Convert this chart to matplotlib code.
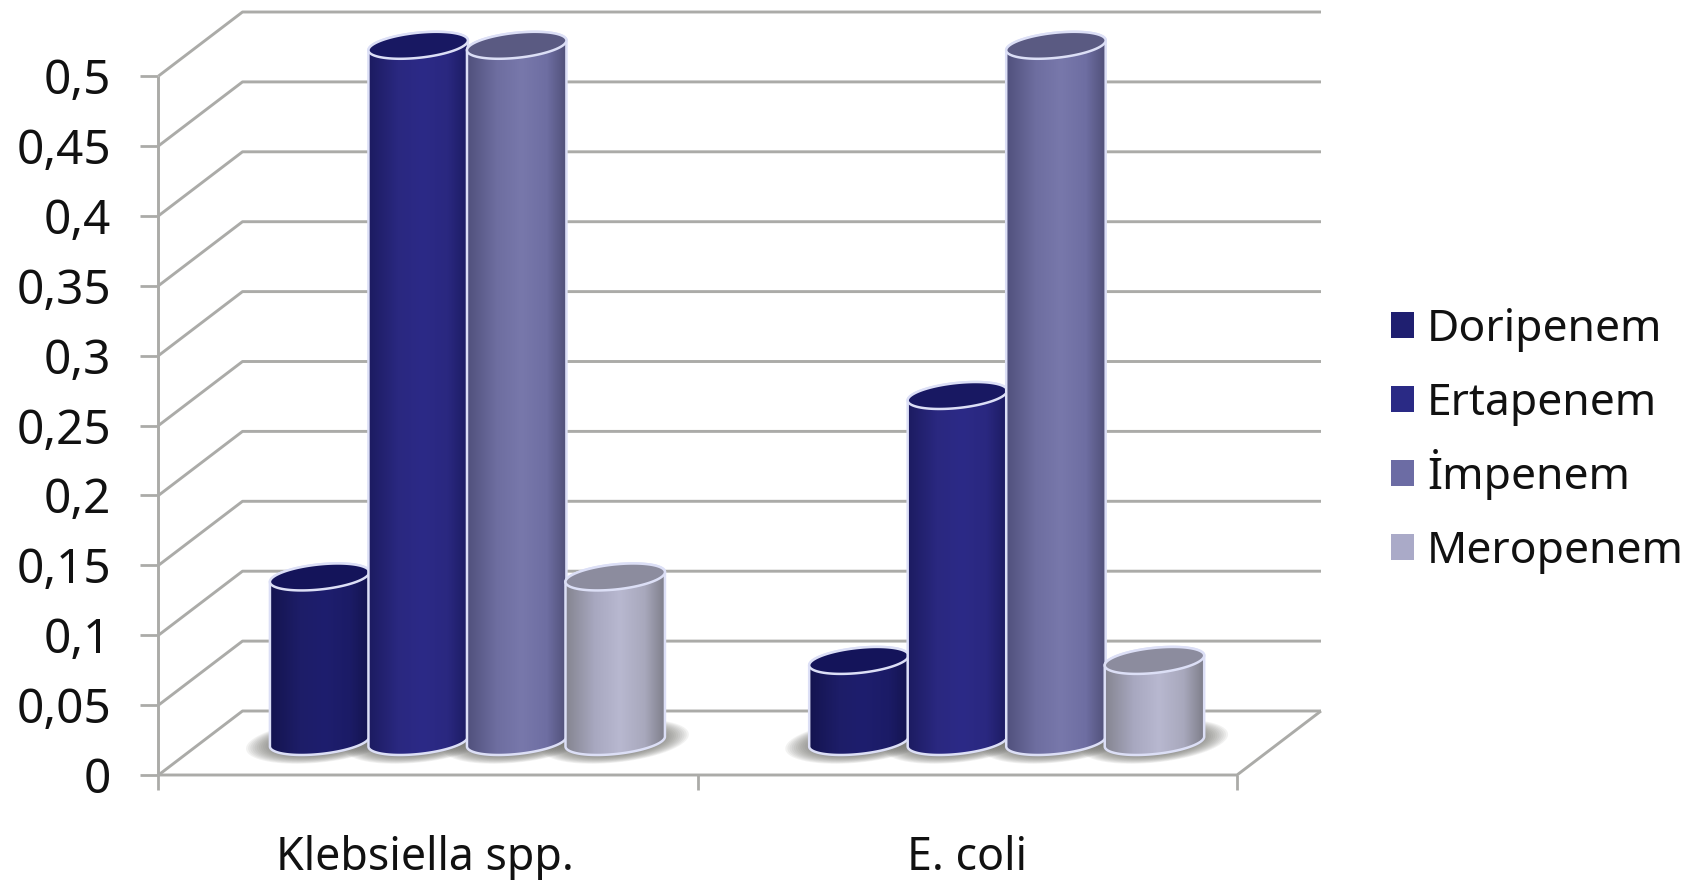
import numpy as np
import matplotlib
matplotlib.use("Agg")
import matplotlib.pyplot as plt
from matplotlib.patches import PathPatch, Patch
from matplotlib.path import Path
from matplotlib.colors import to_rgb
from matplotlib.offsetbox import TextArea
from matplotlib.transforms import Bbox

plt.rcParams['font.family'] = ['Noto Sans', 'DejaVu Sans']

categories = ["Klebsiella spp.", "E. coli"]
series_names = ["Doripenem", "Ertapenem", "İmpenem", "Meropenem"]
doripenem = [0.1177, 0.058]
ertapenem = [0.498, 0.2475]
impenem = [0.498, 0.498]
meropenem = [0.1177, 0.058]
y_ticks = [0, 0.05, 0.1, 0.15, 0.2, 0.25, 0.3, 0.35, 0.4, 0.45, 0.5]
y_labels = ["0", "0,05", "0,1", "0,15", "0,2", "0,25", "0,3", "0,35", "0,4", "0,45", "0,5"]

series_values = [doripenem, ertapenem, impenem, meropenem]
legend_colors = ["#1f1f70", "#2a2a85", "#6c6ca4", "#aaaac8"]
body_stops = [
    ["#14144f", "#1d1d68", "#1e1e6e", "#1b1b66", "#14144f"],
    ["#1c1b60", "#2a2880", "#2c2a87", "#2a2880", "#1c1b62"],
    ["#50507c", "#6e6ea0", "#7878ab", "#6e6ea2", "#505078"],
    ["#84848f", "#a8a8c0", "#b8b8d0", "#a8a8bc", "#7e7e8a"],
]
top_colors = ["#14145a", "#181862", "#5a5a82", "#8c8c9e"]
grid_c = "#ababa8"
outline_c = "#dcdff6"

W, H = 1690, 880
fig = plt.figure(figsize=(W / 100, H / 100), dpi=100, facecolor="white")
L, R, B, T = 158.5, 1237, 775, 76
ax = fig.add_axes([L / W, (H - B) / H, (R - L) / W, (B - T) / H])
ax.set_xlim(0, 2)
ax.set_ylim(0, 0.5)
ax.set_autoscale_on(False)
ax.patch.set_visible(False)
for s in ax.spines.values():
    s.set_visible(False)

PX = (R - L) / 2
PY = (B - T) / 0.5
dx = 84 / PX
dy = 64 / PY

# 3D walls and floor
line_kw = dict(color=grid_c, lw=2.1, clip_on=False, zorder=1, solid_capstyle="butt")
for v in y_ticks:
    ax.plot([0, dx, 2 + dx], [v, v + dy, v + dy], **line_kw)
ax.plot([0, 0], [0, 0.5], **line_kw)
ax.plot([0, 2, 2 + dx], [0, 0, dy], **line_kw)

ax.set_yticks(y_ticks, y_labels)
ax.tick_params(axis="y", length=13, width=2, color=grid_c, pad=21, labelsize=34.3,
               labelcolor="#111111")
ax.set_xticks([0, 1, 2], ["", "", ""])
ax.tick_params(axis="x", which="major", length=11, width=2, color=grid_c)
ax.set_xticks([0.494, 1.5], categories, minor=True)
ax.tick_params(axis="x", which="minor", length=0, pad=43, labelsize=32.2, labelcolor="#111111")

# cylinders
a, b, theta = 50, 12.5, np.radians(6)
step = 0.1827
base_y = (B - 741.5) / PY


def ell(cx, cy, t, sa=a, sb=b):
    ex = sa * np.cos(t) * np.cos(theta) - sb * np.sin(t) * np.sin(theta)
    ey = sa * np.cos(t) * np.sin(theta) + sb * np.sin(t) * np.cos(theta)
    return cx + ex / PX, cy + ey / PY


def closed(xs, ys):
    pts = np.column_stack([np.append(xs, xs[0]), np.append(ys, ys[0])])
    codes = [Path.MOVETO] + [Path.LINETO] * (len(xs) - 1) + [Path.CLOSEPOLY]
    return Path(pts, codes)


z = 2
# soft shadows on the floor
for c in range(len(categories)):
    for i in range(len(series_names)):
        cx = c + 0.5 + dx / 2 - 0.005 + (i - 1.5) * step
        for k in np.linspace(1.0, 0.68, 12):
            t = np.linspace(0, 2 * np.pi, 80)
            xs, ys = ell(cx, base_y, t, 74 * k, 21 * k)
            ax.add_patch(PathPatch(closed(xs, ys), fc="#70706c", ec="none", alpha=0.09,
                                   zorder=z, clip_on=False))
z += 1

for c in range(len(categories)):
    for i, vals in enumerate(series_values):
        cx = c + 0.5 + dx / 2 - 0.005 + (i - 1.5) * step
        top = base_y + vals[c]
        lower = np.linspace(np.pi, 2 * np.pi, 60)
        upper = np.linspace(0, np.pi, 60)
        bx, by = ell(cx, base_y, lower)
        tx, ty = ell(cx, top, upper)
        body = closed(np.r_[bx, tx], np.r_[by, ty])
        stops = np.array([to_rgb(s) for s in body_stops[i]])
        u = np.linspace(0, 1, 200)
        pos = [0, 0.3, 0.55, 0.8, 1]
        grad = np.stack([np.interp(u, pos, stops[:, j]) for j in range(3)], axis=-1)[None, :, :]
        im = ax.imshow(grad, extent=[cx - a / PX, cx + a / PX, base_y - 20 / PY, top + 20 / PY],
                       aspect="auto", zorder=z, interpolation="bilinear")
        clip = PathPatch(body, transform=ax.transData, fc="none", ec="none", clip_on=False)
        ax.add_patch(clip)
        im.set_clip_box(fig.bbox)
        im.set_clip_path(clip)
        ax.add_patch(PathPatch(body, fc="none", ec=outline_c, lw=1.8, zorder=z + 0.1, clip_on=False))
        t = np.linspace(0, 2 * np.pi, 120)
        ex, ey = ell(cx, top, t)
        ax.add_patch(PathPatch(closed(ex, ey), fc=top_colors[i], ec=outline_c, lw=1.8,
                               zorder=z + 0.2, clip_on=False))
        z += 1

handles = [Patch(fc=col, ec="none", label=n) for col, n in zip(legend_colors, series_names)]
leg = fig.legend(handles=handles, loc="center left", bbox_to_anchor=(1368.5 / W, (H - 437) / H),
                 frameon=False, fontsize=32, handlelength=0.52, handleheight=0.52,
                 handletextpad=0.3, labelspacing=0.453, borderpad=0, labelcolor="#111111")


# uniform legend rows, so the taller dotted capital does not widen its row
def fixed_row(area):
    original = area.get_bbox

    def get_bbox(renderer):
        box = original(renderer)
        return Bbox.from_extents(box.x0, -12.0, box.x1, 42.0)

    area.get_bbox = get_bbox


for area in leg.findobj(TextArea):
    fixed_row(area)

fig.savefig("out.png", dpi=100, facecolor="white")
